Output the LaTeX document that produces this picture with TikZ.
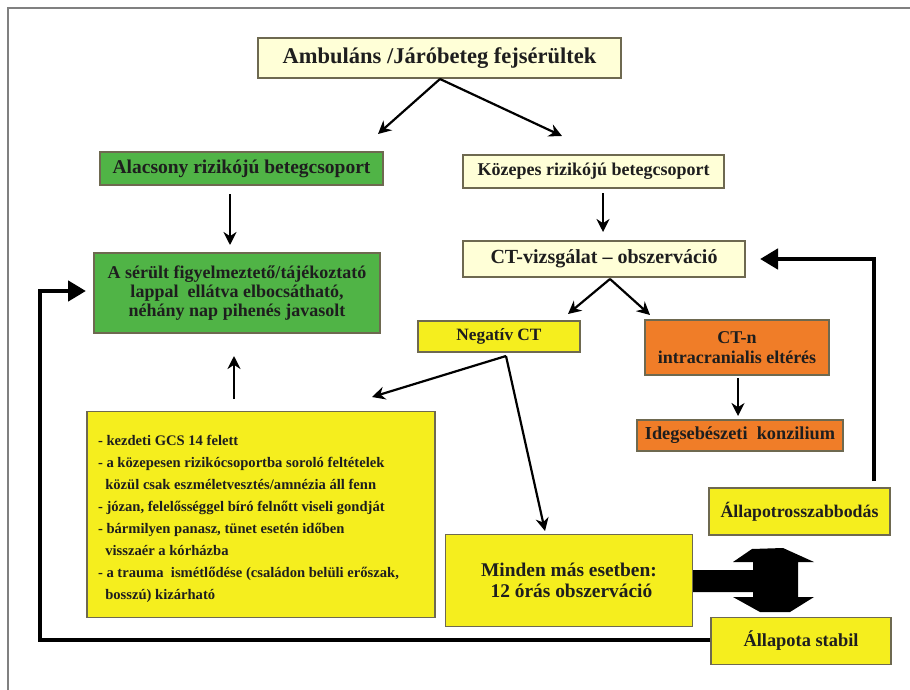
\documentclass[tikz,border=0pt]{standalone}
\usepackage{fontspec}
\setmainfont{Liberation Serif}
\usetikzlibrary{arrows.meta}
\definecolor{cream}{RGB}{255,255,215}
\definecolor{grn}{RGB}{80,180,70}
\definecolor{yel}{RGB}{245,238,30}
\definecolor{org}{RGB}{240,125,40}
\definecolor{bline}{RGB}{110,105,80}
\definecolor{txt}{RGB}{30,30,30}
\newcommand{\fs}[1]{\bfseries\fontsize{#1}{#1}\selectfont}
\tikzset{
  boxn/.style={draw=bline, line width=1.2pt, inner sep=0pt, align=center, text=txt,
    font=\fs{18}},
  arr/.style={line width=2.2pt, -{Stealth[length=13pt,width=13pt]}},
  fb/.style={line width=4.5pt, -{Triangle[length=18pt,width=20pt]}},
  frm/.style={draw=gray, line width=1.5pt}
}
\begin{document}
\begin{tikzpicture}[x=1pt,y=-1pt]
\useasboundingbox (0,0) rectangle (910,690);
\fill[white] (0,0) rectangle (910,690);
\draw[frm] (8,690) -- (8,8) -- (910,8);

\node[boxn, fill=cream, minimum width=363, minimum height=40,
  font=\fs{22.5}] (top) at (439.5,58) {Ambuláns /Járóbeteg fejsérültek};
\node[boxn, fill=grn, minimum width=283, minimum height=33, font=\fs{19.5}] (alac) at (241.5,168.5) {Alacsony rizikójú betegcsoport};
\node[boxn, fill=cream, minimum width=261, minimum height=33, font=\fs{18}] (kozep) at (593.5,171.5) {Közepes rizikójú betegcsoport};
\node[boxn, fill=grn, minimum width=286, minimum height=80, font=\bfseries\fontsize{18}{19}\selectfont] (serult) at (237,293)
  {A sérült figyelmeztető/tájékoztató\\lappal\ \ ellátva elbocsátható,\\néhány nap pihenés javasolt};
\node[boxn, fill=cream, minimum width=282, minimum height=36, font=\fs{20}] (ctv) at (604,259) {CT-vizsgálat -- obszerváció};
\node[boxn, fill=yel, minimum width=162, minimum height=31, font=\fs{17.3}] (neg) at (499,336.5) {Negatív CT};
\node[boxn, fill=org, minimum width=184, minimum height=55, font=\bfseries\fontsize{18}{20}\selectfont] (ctn) at (737,347.5) {CT-n\\intracranialis eltérés};
\node[boxn, fill=org, minimum width=206, minimum height=31, font=\fs{18.3}] (ideg) at (740,435.5) {Idegsebészeti\ \ konzilium};
\node[boxn, fill=yel, minimum width=348, minimum height=206, align=left,
  font=\bfseries\fontsize{14.6}{22}\selectfont] (kezd) at (261,514.5)
  {\parbox{326pt}{\raggedright\vspace*{9pt}
  - kezdeti GCS 14 felett\\
  - a közepesen rizikócsoportba soroló feltételek\\
  \ \ közül csak eszméletvesztés/amnézia áll fenn\\
  - józan, felelősséggel bíró felnőtt viseli gondját\\
  - bármilyen panasz, tünet esetén időben\\
  \ \ visszaér a kórházba\\
  - a trauma\ \ ismétlődése (családon belüli erőszak,\\
  \ \ bosszú) kizárható}};
\node[boxn, fill=yel, minimum width=247, minimum height=92,
  font=\bfseries\fontsize{19.4}{21}\selectfont] (minden) at (569,580.5) {Minden más esetben:\\\ 12 órás obszerváció};
\node[boxn, fill=yel, minimum width=181, minimum height=47, font=\fs{17.8}] (rossz) at (799.5,511.5) {Állapotrosszabbodás};
\node[boxn, fill=yel, minimum width=180, minimum height=47, font=\fs{18.4}] (stabil) at (801,641) {Állapota stabil};

% coordinates
\coordinate (apex1) at (440,79);
\coordinate (t1l) at (378,134);
\coordinate (t1r) at (562,136);
\coordinate (a1s) at (230,194);
\coordinate (a1e) at (230,245);
\coordinate (k1s) at (603,193);
\coordinate (k1e) at (603,232);
\coordinate (apex2) at (610,279);
\coordinate (t2l) at (568,314);
\coordinate (t2r) at (650,315);
\coordinate (c1s) at (738,378);
\coordinate (c1e) at (738,416);
\coordinate (apex3) at (506,356);
\coordinate (t3l) at (372,397);
\coordinate (t3d) at (545,531);
\coordinate (u1s) at (234,399);
\coordinate (u1e) at (234,356);
\coordinate (rtop) at (874,481);
\coordinate (rtip) at (760,259);
\coordinate (ltip) at (86,291);

\draw[arr] (apex1) -- (t1l);
\draw[arr] (apex1) -- (t1r);
\draw[arr] (a1s) -- (a1e);
\draw[arr] (k1s) -- (k1e);
\draw[arr] (apex2) -- (t2l);
\draw[arr] (apex2) -- (t2r);
\draw[arr] (c1s) -- (c1e);
\draw[arr] (apex3) -- (t3l);
\draw[arr] (apex3) -- (t3d);
\draw[arr] (u1s) -- (u1e);

\draw[fb] (rtop) -- (874,259) -- (rtip);
\draw[fb] (stabil.west |- 0,640) -- (40,640) -- (40,291) -- (ltip);

% big double arrow
\fill[black] (minden.east |- 0,570) -- (753,570) -- (753,562) -- (733,562) -- (752,549) -- (783,548) -- (814,562)
  -- (798,562) -- (798,597) -- (814,597) -- (790,612) -- (760,612) -- (733,597) -- (753,597) -- (753,592)
  -- (minden.east |- 0,592) -- cycle;
\end{tikzpicture}
\end{document}
